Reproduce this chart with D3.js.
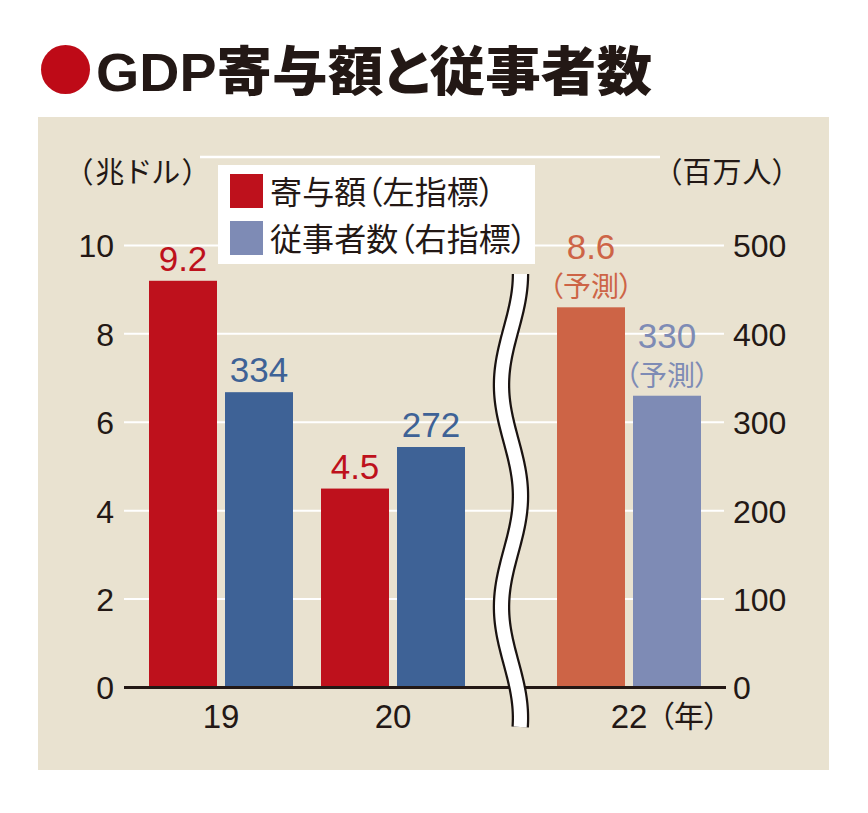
<!DOCTYPE html>
<html><head><meta charset="utf-8">
<script src="https://cdn.jsdelivr.net/npm/d3@7"></script>
<style>
html,body{margin:0;padding:0;background:#fff;}
svg text{font-feature-settings:"palt";}
.num{font-family:"Liberation Sans",Arial,sans-serif;}
.jp{font-family:"Noto Sans CJK JP","Liberation Sans",sans-serif;}
</style></head>
<body>
<svg id="chart" width="868" height="813"></svg>
<script>
// ---- data ----
const years = ["19", "20", "22"];
const gdpValues = [9.2, 4.5, 8.6];          // 兆ドル (left axis)
const workerValues = [334, 272, 330];       // 百万人 (right axis)
const forecast = [false, false, true];
const leftTicks = [0, 2, 4, 6, 8, 10];
const rightTicks = [0, 100, 200, 300, 400, 500];
const seriesNames = ["寄与額（左指標）", "従事者数（右指標）"];
const title = "GDP寄与額と従事者数";
const leftUnit = "（兆ドル）";
const rightUnit = "（百万人）";
const xUnit = "（年）";
const forecastNote = "（予測）";

// ---- styles ----
const C = {
  bg: "#e9e2d0", text: "#231815",
  red: "#be111c", blue: "#3e6296", orange: "#cd6446", lblue: "#7e8bb5",
  titleDot: "#be0a17"
};

const svg = d3.select("#chart");

// title
svg.append("circle").attr("cx", 65.5).attr("cy", 69.5).attr("r", 24.5).attr("fill", C.titleDot);
svg.append("text")
  .attr("x", 96).attr("y", 91)
  .attr("font-size", 53).attr("font-weight", 900)
  .attr("fill", C.text)
  .attr("textLength", 556).attr("lengthAdjust", "spacingAndGlyphs")
  .style("font-family", "'Liberation Sans','Noto Sans CJK JP',sans-serif")
  .text(title);

// panel
svg.append("rect").attr("x", 38).attr("y", 117).attr("width", 791).attr("height", 653).attr("fill", C.bg);

// scales
const yL = d3.scaleLinear().domain([0, 12]).range([687.5, 157]);
const yR = d3.scaleLinear().domain([0, 600]).range([687.5, 157]);
const x = d3.scaleBand().domain(years).range([135, 651]).paddingInner(28 / 172).paddingOuter(14 / 172);
const xs = d3.scaleBand().domain(["gdp", "workers"]).range([0, x.bandwidth()]).paddingInner(8 / 76);
const breakShift = 64;
const gx = (d, i) => x(d) + (i >= 2 ? breakShift : 0);

// gridlines
const plotL = 124, plotR = 724;
svg.append("g").selectAll("line").data(leftTicks.filter(t => t > 0)).join("line")
  .attr("x1", plotL).attr("x2", plotR)
  .attr("y1", d => yL(d)).attr("y2", d => yL(d))
  .attr("stroke", "#fff").attr("stroke-width", 2);
svg.append("line").attr("x1", 200).attr("x2", 660)
  .attr("y1", yL(12)).attr("y2", yL(12)).attr("stroke", "#fff").attr("stroke-width", 2.5);

// bars
const barsG = svg.append("g");
years.forEach((yr, i) => {
  const x0 = gx(yr, i);
  const c1 = forecast[i] ? C.orange : C.red;
  const c2 = forecast[i] ? C.lblue : C.blue;
  barsG.append("rect").attr("x", x0 + xs("gdp")).attr("width", xs.bandwidth())
    .attr("y", yL(gdpValues[i])).attr("height", yL(0) - yL(gdpValues[i])).attr("fill", c1);
  barsG.append("rect").attr("x", x0 + xs("workers")).attr("width", xs.bandwidth())
    .attr("y", yR(workerValues[i])).attr("height", yR(0) - yR(workerValues[i])).attr("fill", c2);

  const lab = (val, xc, ytop, col) => {
    if (forecast[i]) {
      svg.append("text").attr("class", "num").attr("x", xc).attr("y", ytop - 48)
        .attr("text-anchor", "middle").attr("font-size", 35).attr("fill", col).text(val);
      svg.append("text").attr("class", "jp").attr("x", xc).attr("y", ytop - 10)
        .attr("text-anchor", "middle").attr("font-size", 28).attr("fill", col).text(forecastNote);
    } else {
      svg.append("text").attr("class", "num").attr("x", xc).attr("y", ytop - 10)
        .attr("text-anchor", "middle").attr("font-size", 35).attr("fill", col).text(val);
    }
  };
  lab(d3.format(".1f")(gdpValues[i]), x0 + xs("gdp") + xs.bandwidth() / 2, yL(gdpValues[i]), c1);
  lab(String(workerValues[i]), x0 + xs("workers") + xs.bandwidth() / 2, yR(workerValues[i]), c2);

  // x labels
  svg.append("text").attr("class", "num").attr("x", x0 + x.bandwidth() / 2).attr("y", 728)
    .attr("text-anchor", "middle").attr("font-size", 33).attr("fill", C.text).text(yr);
  if (i === years.length - 1) {
    svg.append("text").attr("class", "jp").attr("x", x0 + x.bandwidth() / 2 + 30).attr("y", 727)
      .attr("font-size", 30).attr("fill", C.text).text(xUnit);
  }
});

// baseline
svg.append("line").attr("x1", plotL).attr("x2", plotR + 2)
  .attr("y1", yL(0)).attr("y2", yL(0)).attr("stroke", C.text).attr("stroke-width", 3);

// axis tick labels
svg.append("g").selectAll("text").data(leftTicks).join("text").attr("class", "num")
  .attr("x", 114).attr("y", d => yL(d)).attr("dy", "0.37em")
  .attr("text-anchor", "end").attr("font-size", 32).attr("fill", C.text).text(d => d);
svg.append("g").selectAll("text").data(rightTicks).join("text").attr("class", "num")
  .attr("x", 733).attr("y", d => yR(d)).attr("dy", "0.37em")
  .attr("text-anchor", "start").attr("font-size", 32).attr("fill", C.text).text(d => d);

// units
svg.append("text").attr("class", "jp").attr("x", 78).attr("y", 183)
  .attr("font-size", 29).attr("fill", C.text)
  .attr("textLength", 119).attr("lengthAdjust", "spacing").text(leftUnit);
svg.append("text").attr("class", "jp").attr("x", 667).attr("y", 183)
  .attr("font-size", 29).attr("fill", C.text)
  .attr("textLength", 120).attr("lengthAdjust", "spacing").text(rightUnit);

// break symbol (wavy band)
const bx = (x(years[1]) + x.bandwidth() + gx(years[2], 2)) / 2;
const pts = d3.range(274, 728.1, 3).map(yy => [bx + 9.5 * Math.cos(2 * Math.PI * (yy - 274) / 222), yy]);
const wave = d3.line().curve(d3.curveBasis);
svg.append("path").attr("d", wave(pts)).attr("fill", "none").attr("stroke", "#1a1311").attr("stroke-width", 17.5);
svg.append("path").attr("d", wave(pts)).attr("fill", "none").attr("stroke", "#fff").attr("stroke-width", 13);

// legend
const lg = svg.append("g");
lg.append("rect").attr("x", 218).attr("y", 165).attr("width", 317).attr("height", 99).attr("fill", "#fff");
const legendColors = [C.red, C.lblue];
const legendWidths = [225, 257];
seriesNames.forEach((nm, k) => {
  lg.append("rect").attr("x", 230).attr("y", 174 + k * 47).attr("width", 33).attr("height", 34).attr("fill", legendColors[k]);
  lg.append("text").attr("class", "jp").attr("x", 270).attr("y", 204 + k * 47)
    .attr("font-size", 32).attr("fill", C.text)
    .attr("textLength", legendWidths[k]).attr("lengthAdjust", "spacing").text(nm);
});
</script>
</body></html>
